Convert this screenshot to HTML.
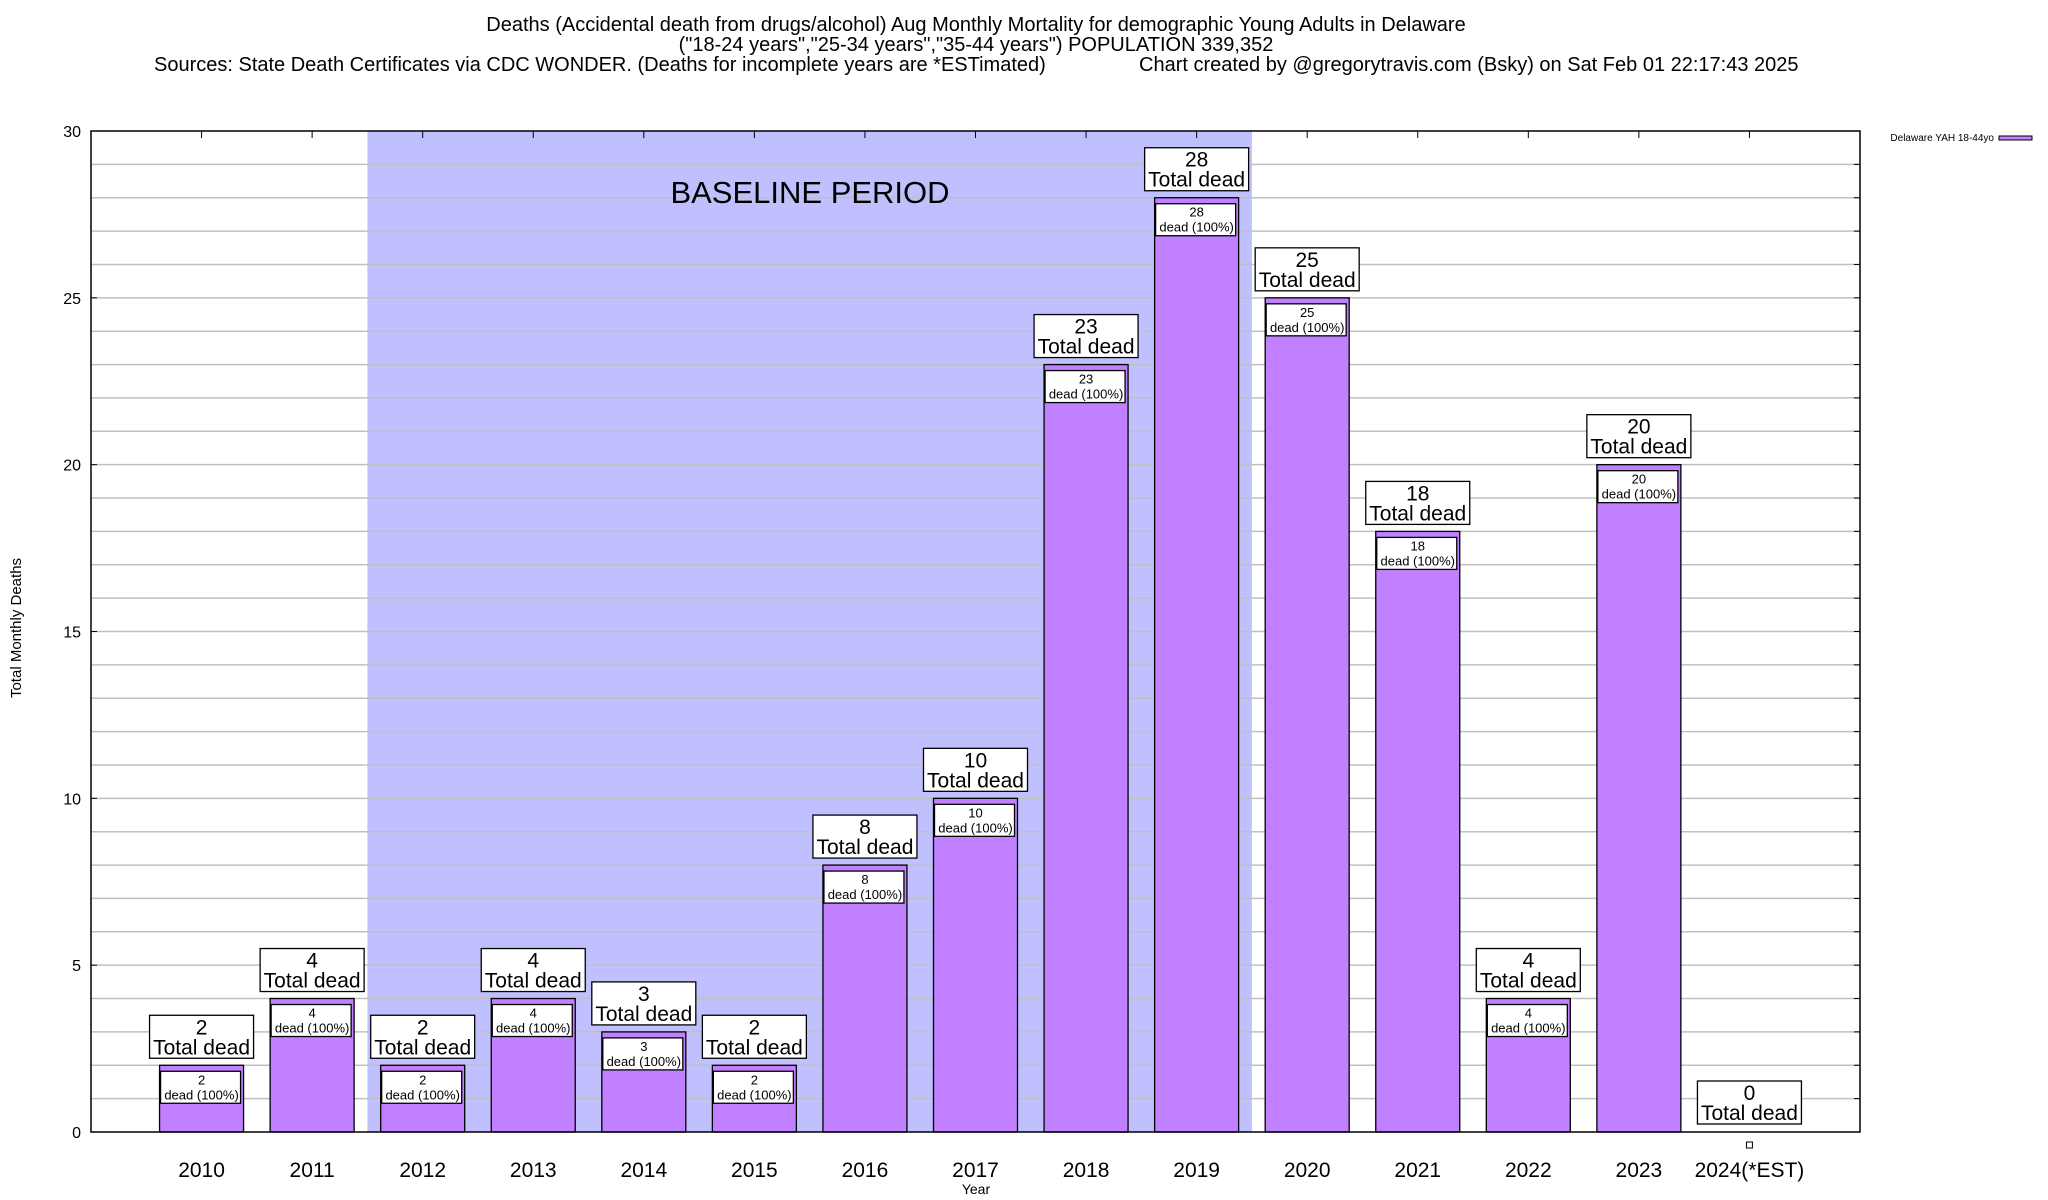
<!DOCTYPE html>
<html><head><meta charset="utf-8"><style>
html,body{margin:0;padding:0;background:#fff;}
svg{display:block;font-family:"Liberation Sans",Arial,sans-serif;}
</style></head><body>
<svg id="chart" width="2048" height="1200" viewBox="0 0 2048 1200">
<g font-size="20" text-anchor="middle" fill="#000">
<text x="976" y="31">Deaths (Accidental death from drugs/alcohol) Aug Monthly Mortality for demographic Young Adults in Delaware</text>
<text x="976" y="51">("18-24 years","25-34 years","35-44 years") POPULATION 339,352</text>
<text x="154" y="71" text-anchor="start">Sources: State Death Certificates via CDC WONDER. (Deaths for incomplete years are *ESTimated)</text>
<text x="1139" y="71" text-anchor="start">Chart created by @gregorytravis.com (Bsky) on Sat Feb 01 22:17:43 2025</text>
</g>
<g id="plot"></g>
</svg>
<script>
const categories = ["2010","2011","2012","2013","2014","2015","2016","2017","2018","2019","2020","2021","2022","2023","2024(*EST)"];
const deaths = [2,4,2,4,3,2,8,10,23,28,25,18,4,20,0];
const yTicks = [0,5,10,15,20,25,30];
const baselineRange = [1.5, 9.5];

const L=91, R=1860, T=131, B=1132, yMax=30;
const slot=(R-L)/16;
const xs=i=>L+slot*(i+1);
const ys=v=>B-(B-T)*v/yMax;
const NS="http://www.w3.org/2000/svg";
const g=document.getElementById('plot');
function el(tag,attrs,parent){const e=document.createElementNS(NS,tag);for(const k in attrs)e.setAttribute(k,attrs[k]);(parent||g).appendChild(e);return e;}
function txt(x,y,s,size,anchor,parent){const t=el('text',{x:x,y:y,'font-size':size,'text-anchor':anchor||'middle',fill:'#000'},parent);t.textContent=s;return t;}

const sh=el('rect',{x:xs(baselineRange[0]),y:T,width:xs(baselineRange[1])-xs(baselineRange[0]),height:B-T,fill:'#c0c0fe'});



for(let v=1;v<yMax;v++){
  const l=el('line',{x1:L,x2:R,y1:ys(v),y2:ys(v),stroke:'#c0c0c0','stroke-width':1.5});
  
  
  const tk=el('line',{x1:R-6,x2:R,y1:ys(v),y2:ys(v),stroke:'#000','stroke-width':1});
  
  
}
const bl=txt(810,203,'BASELINE PERIOD',31);



yTicks.forEach(v=>{
  const t=txt(81,ys(v)+6,String(v),16,'end');
  
  
  const tk=el('line',{x1:L,x2:L+6,y1:ys(v),y2:ys(v),stroke:'#000'});
  
  
});

const bw=84;
categories.forEach((c,i)=>{
  const cx=xs(i), v=deaths[i];
  const tk=el('line',{x1:cx,x2:cx,y1:T,y2:T+7,stroke:'#000'});
  
  
  const xl=txt(cx,1177,c,21);
  
  
  const top=ys(v);
  if(v>0){
    const b=el('rect',{x:cx-bw/2,y:top,width:bw,height:B-top,fill:'#c080ff',stroke:'#000','stroke-width':1.3});
    
    
    const ib=el('rect',{x:cx-bw/2+1,y:top+6,width:bw-4,height:32,fill:'#fff',stroke:'#000','stroke-width':1.3});
    
    
    const t1=txt(cx,top+19,String(v),13);
    
    
    const t2=txt(cx,top+34,'dead (100%)',13);
    
    
  } else {
    const m=el('rect',{x:cx-3,y:B+10,width:6,height:6,fill:'#fff',stroke:'#000'});
    
    
  }
  const by=(v>0?top-7:B-8)-43;
  const tb=el('rect',{x:cx-52,y:by,width:104,height:43,fill:'#fff',stroke:'#000','stroke-width':1.3});
  
  
  const n=txt(cx,by+19,String(v),21);
  
  
  const td=txt(cx,by+39,'Total dead',21);
  
  
});

const fr=el('rect',{x:L,y:T,width:R-L,height:B-T,fill:'none',stroke:'#000','stroke-width':1.5});



const xt=txt(976,1194,'Year',14);


const yt=txt(0,0,'Total Monthly Deaths',15);
yt.setAttribute('transform','translate(21,628) rotate(-90)');



const lg=txt(1994,141,'Delaware YAH 18-44yo',10,'end');


const sw=el('rect',{x:1999,y:136,width:33,height:4,fill:'#c080ff',stroke:'#000','stroke-width':1});


</script>
</body></html>
